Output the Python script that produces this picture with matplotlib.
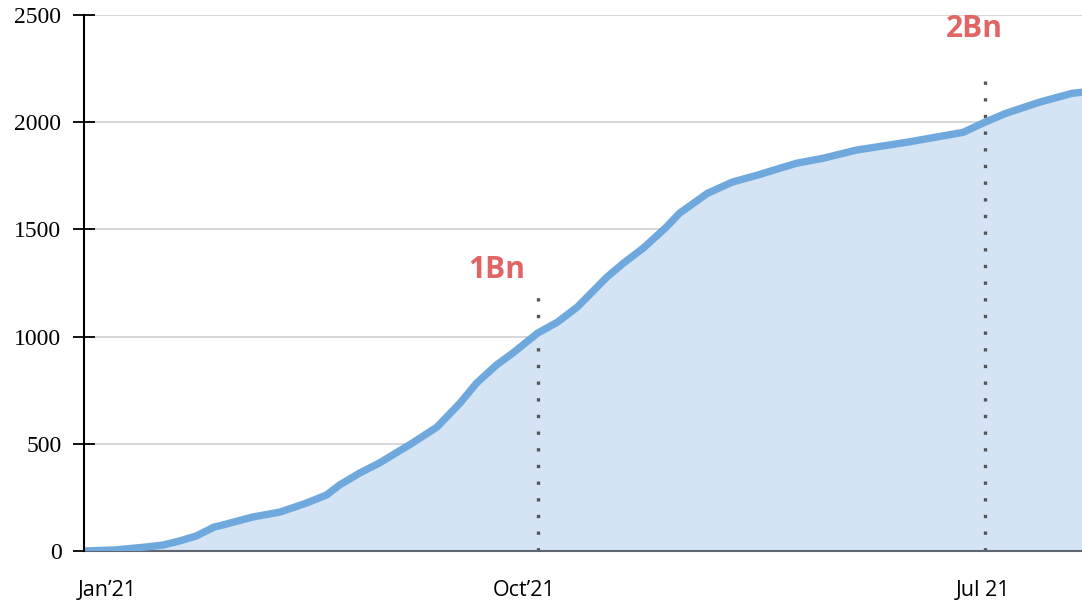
import numpy as np
import matplotlib.pyplot as plt

# days since 1 Jan 2021 and cumulative value
days = [0, 19, 38, 48, 58, 68, 79, 84, 102, 119, 135, 147, 155, 167, 179, 199,
        214, 228, 238, 250, 260, 275, 287, 299, 317, 327, 339, 353, 361, 378,
        393, 408, 422, 432, 448, 468, 499, 533, 546, 559, 579, 599, 605]
values = [0, 5, 19, 28, 47, 70, 112, 121, 158, 182, 224, 261, 308, 363, 410, 503,
          578, 690, 783, 867, 923, 1016, 1067, 1137, 1277, 1342, 1412, 1510, 1575, 1668,
          1720, 1752, 1785, 1808, 1831, 1869, 1906, 1952, 1999, 2041, 2092, 2134, 2139]

yticks = [0, 500, 1000, 1500, 2000, 2500]
xtick_days = [14, 267, 545]
xtick_labels = ["Jan\u201921", "Oct\u201921", "Jul 21"]

milestones = ["1Bn", "2Bn"]
milestone_days = [275, 546]
milestone_tops = [1188, 2227]
milestone_text_days = [250, 540]
milestone_text_y = [1310, 2432]


def main():
    fig = plt.figure(figsize=(10.82, 6.02), dpi=100)
    ax = fig.add_axes([0.0776, 0.0847, 0.9224, 0.8907])

    ax.fill_between(days, values, 0, color="#d4e4f4", zorder=1)
    ax.plot(days, values, color="#6fa8dc", lw=5.3, solid_capstyle="round",
            solid_joinstyle="round", zorder=3)

    # milestone markers
    for lbl, d, top, td, ty in zip(milestones, milestone_days, milestone_tops,
                                   milestone_text_days, milestone_text_y):
        ax.plot([d, d], [0, top], color="#555555", lw=2.4,
                linestyle=(0, (1, 4.0)), dash_capstyle="butt", zorder=2)
        ax.text(td, ty, lbl, color="#e06666", fontsize=21.5, fontweight="bold",
                family="Open Sans", ha="center", va="center")

    ax.set_xlim(0, 605)
    ax.set_ylim(0, 2500)
    ax.set_yticks(yticks)
    ax.set_yticklabels([str(v) for v in yticks], family="Liberation Serif", fontsize=17)
    ax.set_xticks(xtick_days)
    ax.set_xticklabels(xtick_labels, family="Open Sans", fontsize=15.5)

    ax.tick_params(axis="y", direction="inout", length=16.5, width=1.3, pad=8)
    ax.tick_params(axis="x", length=0, pad=21)

    ax.grid(axis="y", color="#d0d0d0", lw=1.2, zorder=0)
    ax.set_axisbelow(True)

    for s in ["top", "right"]:
        ax.spines[s].set_visible(False)
    ax.spines["left"].set_linewidth(1.5)
    ax.spines["left"].set_color("black")
    ax.spines["left"].set_zorder(4)
    ax.spines["bottom"].set_linewidth(1.5)
    ax.spines["bottom"].set_color("#5f6670")

    fig.savefig("out.png", dpi=100)


if __name__ == "__main__":
    main()
